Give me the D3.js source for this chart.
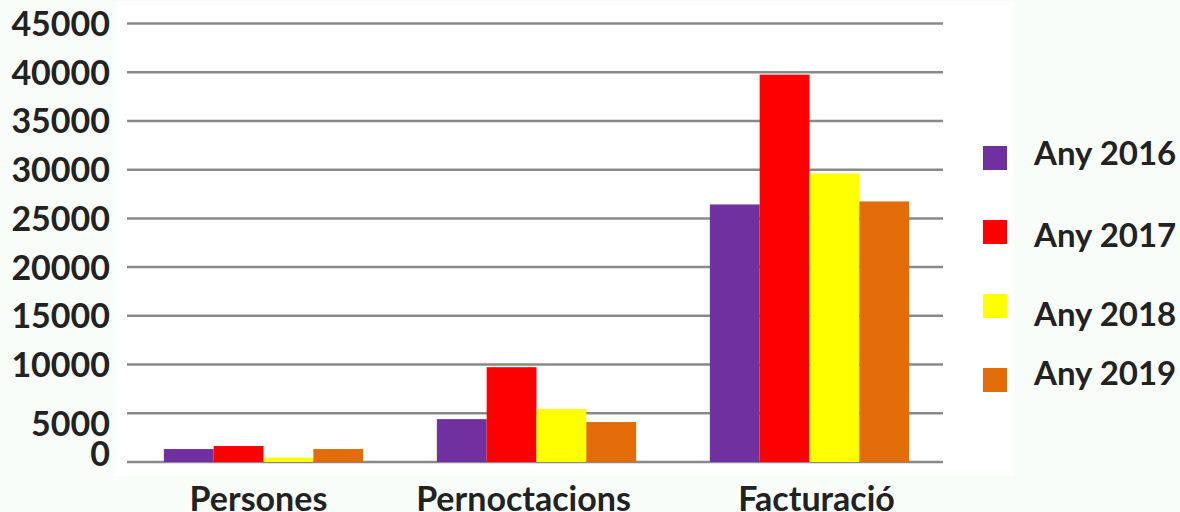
<!doctype html>
<html lang="ca">

<head>
    <meta charset="utf-8">
    <title>Any 2016-2019</title>
    <script src="https://cdn.jsdelivr.net/npm/d3@7"></script>
    <style>
        body { margin: 0; background: #f9fdfa; }
        text { font-family: Lato, "Open Sans", sans-serif; font-weight: bold; fill: #222; }
    </style>
</head>

<body>
    <script>
        // data
        var categories = ["Persones", "Pernoctacions", "Facturació"];
        var series = ["Any 2016", "Any 2017", "Any 2018", "Any 2019"];
        var colors = ["#7030a0", "#ff0000", "#ffff00", "#e36c0a"];
        var any2016 = [1330, 4400, 26430];
        var any2017 = [1640, 9730, 39750];
        var any2018 = [440, 5430, 29600];
        var any2019 = [1330, 4100, 26740];
        var yTicks = [0, 5000, 10000, 15000, 20000, 25000, 30000, 35000, 40000, 45000];

        var values = [any2016, any2017, any2018, any2019];
        var width = 1180, height = 512;

        var svg = d3.select("body").append("svg")
            .attr("width", width)
            .attr("height", height);

        // white panel behind the plot
        svg.append("rect")
            .attr("x", 115).attr("y", 1)
            .attr("width", 898).attr("height", 475)
            .attr("fill", "#fff");

        var x = d3.scaleBand()
            .domain(categories)
            .range([127, 946])
            .paddingInner(0.27)
            .paddingOuter(0.135);

        var xs = d3.scaleBand()
            .domain(series)
            .range([0, x.bandwidth()]);

        var y = d3.scaleLinear()
            .domain([0, 45000])
            .range([462, 23.5]);

        // gridlines
        svg.append("g")
            .selectAll("line")
            .data(yTicks)
            .enter()
            .append("line")
            .attr("x1", 127)
            .attr("x2", 943)
            .attr("y1", function(d) { return y(d); })
            .attr("y2", function(d) { return y(d); })
            .attr("stroke", "#898989")
            .attr("stroke-width", 2.5);

        // y labels (0 and 5000 are pushed apart in the original)
        var nudge = { 0: -9, 5000: 10 };
        var yAxis = svg.append("g")
            .attr("transform", "translate(110,0)")
            .call(d3.axisLeft(y).tickValues(yTicks).tickSize(0).tickPadding(0)
                .tickFormat(function(d) { return d; }));
        yAxis.select(".domain").remove();
        yAxis.selectAll("text")
            .attr("font-size", 34)
            .attr("dy", function(d) { return (nudge[d] || 0) + 12; })
            .attr("fill", "#222");

        // bars
        var groups = svg.append("g")
            .selectAll("g")
            .data(series)
            .enter()
            .append("g")
            .attr("fill", function(d, i) { return colors[i]; });

        groups.selectAll("rect")
            .data(function(d, i) {
                return categories.map(function(c, j) {
                    return { cat: c, s: d, v: values[i][j] };
                });
            })
            .enter()
            .append("rect")
            .attr("x", function(d) { return x(d.cat) + xs(d.s); })
            .attr("y", function(d) { return y(d.v); })
            .attr("width", xs.bandwidth())
            .attr("height", function(d) { return y(0) - y(d.v); });

        // category labels, not quite centred under their groups in the original
        var labelShift = [-5, -13, 7];
        var xAxis = svg.append("g")
            .attr("transform", "translate(0,462)")
            .call(d3.axisBottom(x).tickSize(0).tickPadding(0));
        xAxis.select(".domain").remove();
        xAxis.selectAll("text")
            .attr("font-size", 34)
            .attr("dy", 48.5)
            .attr("dx", function(d, i) { return labelShift[i]; })
            .attr("fill", "#222");

        // legend
        var legendShift = [-5, 3, 8, -7];
        var legend = svg.append("g")
            .selectAll("g")
            .data(series)
            .enter()
            .append("g")
            .attr("transform", function(d, i) { return "translate(983," + (158 + i * 74) + ")"; });

        legend.append("rect")
            .attr("x", 0)
            .attr("y", -12)
            .attr("width", 24)
            .attr("height", 24)
            .attr("fill", function(d, i) { return colors[i]; });

        legend.append("text")
            .attr("x", 51)
            .attr("dy", function(d, i) { return 12 + legendShift[i]; })
            .attr("font-size", 33)
            .text(function(d) { return d; });
    </script>
</body>

</html>
